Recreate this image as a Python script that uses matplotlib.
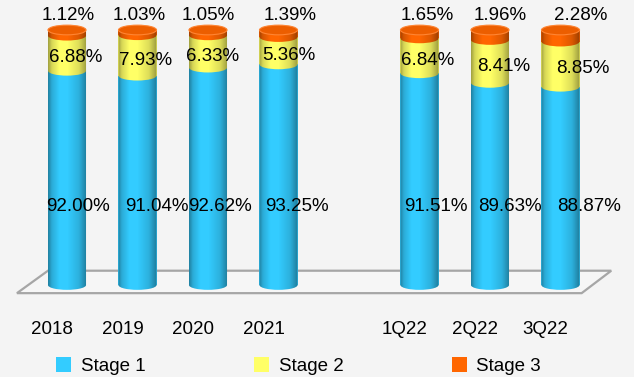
import numpy as np
import matplotlib
matplotlib.use("Agg")
import matplotlib.pyplot as plt
from matplotlib.patches import Ellipse, Polygon, Patch
from matplotlib.path import Path

plt.rcParams["font.family"] = ["Liberation Sans", "DejaVu Sans"]

periods = ["2018", "2019", "2020", "2021", "1Q22", "2Q22", "3Q22"]
stage1 = [92.00, 91.04, 92.62, 93.25, 91.51, 89.63, 88.87]
stage2 = [6.88, 7.93, 6.33, 5.36, 6.84, 8.41, 8.85]
stage3 = [1.12, 1.03, 1.05, 1.39, 1.65, 1.96, 2.28]
names = ["Stage 1", "Stage 2", "Stage 3"]

# layout / style
slots = [0, 1, 2, 3, 5, 6, 7]  # empty slot between years and quarters
colours = ["#33ccff", "#ffff66", "#ff6600"]
floor_v = 50.0   # floor of the 3d box
w = 0.54         # cylinder width
eh = 1.9         # ellipse height (data units)
fs = 13.5
off1 = [0.16, 0.28, 0.17, 0.26, 0.23, 0.28, 0.40]
off2 = [0.13, 0.11, 0.06, 0.14, 0.11, 0.20, 0.31]
off3 = [0.01, 0.03, 0.01, 0.16, 0.11, 0.14, 0.28]

fig = plt.figure(figsize=(6.34, 3.77), dpi=100)
fig.patch.set_facecolor("#f4f4f4")
ax = fig.add_axes([0, 0, 1, 1])
ax.set_facecolor("#f4f4f4")
ax.axis("off")

# floor of the 3d plot area
ax.add_patch(Polygon([(-0.27, 52.8), (7.72, 52.8), (7.30, 48.4), (-0.71, 48.4)],
                     closed=True, fc="#f6f6f6", ec="#a6a6a6", lw=1.6, zorder=1))

s1 = np.array(stage1)
s2 = np.array(stage2)
s3 = np.array(stage3)
bottoms = [np.full(len(s1), floor_v), s1, s1 + s2]
tops = [s1, s1 + s2, s1 + s2 + s3]

for k in range(3):
    z = 2 + k * 0.1
    ax.bar(slots, tops[k] - bottoms[k], bottom=bottoms[k], width=w,
           color=colours[k], lw=0, zorder=z)
    for x, b in zip(slots, bottoms[k]):
        ax.add_patch(Ellipse((x, b), w, eh, fc=colours[k], lw=0, zorder=z))

# cylinder shading
prof = np.linspace(0, 1, 200)
alpha = np.interp(prof, [0, 0.1, 0.3, 0.5, 0.8, 1], [0.38, 0.16, 0.0, 0.0, 0.14, 0.4])
grad = np.zeros((1, 200, 4))
grad[..., 3] = alpha
t_bot = np.linspace(np.pi, 2 * np.pi, 40)
t_top = np.linspace(0, np.pi, 40)
for x, top in zip(slots, tops[2]):
    bot = np.column_stack([x + w / 2 * np.cos(t_bot), floor_v + eh / 2 * np.sin(t_bot)])
    upp = np.column_stack([x + w / 2 * np.cos(t_top), top + eh / 2 * np.sin(t_top)])
    clip = Path(np.vstack([bot, upp, bot[:1]]), closed=True)
    im = ax.imshow(grad, extent=(x - w / 2, x + w / 2, floor_v - eh, top + eh),
                   aspect="auto", interpolation="bilinear", zorder=2.5)
    im.set_clip_path(clip, transform=ax.transData)
    ax.add_patch(Ellipse((x, top), w, eh, fc="#ec5e00", ec="#ff8533", lw=0.8, zorder=2.6))

# value labels
for i, x in enumerate(slots):
    ax.text(x + off1[i], 65.4, f"{stage1[i]:.2f}%", ha="center", va="center", fontsize=fs, zorder=5)
    ax.text(x + off2[i], s1[i] + s2[i] / 2 - 0.9, f"{stage2[i]:.2f}%", ha="center", va="center",
            fontsize=fs, zorder=5)
    ax.text(x + off3[i], 102.9, f"{stage3[i]:.2f}%", ha="center", va="center", fontsize=fs, zorder=5)
    ax.text(x - 0.21, 41.2, periods[i], ha="center", va="center", fontsize=fs, zorder=5)

ax.set_xlim(-0.9504, 8.0426)
ax.set_ylim(31.96, 105.88)

handles = [Patch(fc=c, ec="none") for c in colours]
fig.legend(handles, names, loc="center left", bbox_to_anchor=(0.089, 0.029), ncol=3,
           frameon=False, fontsize=fs, handlelength=0.8, handleheight=0.85,
           handletextpad=0.5, columnspacing=5.8, borderpad=0, borderaxespad=0)

fig.savefig("out.png", dpi=100, facecolor=fig.get_facecolor())
